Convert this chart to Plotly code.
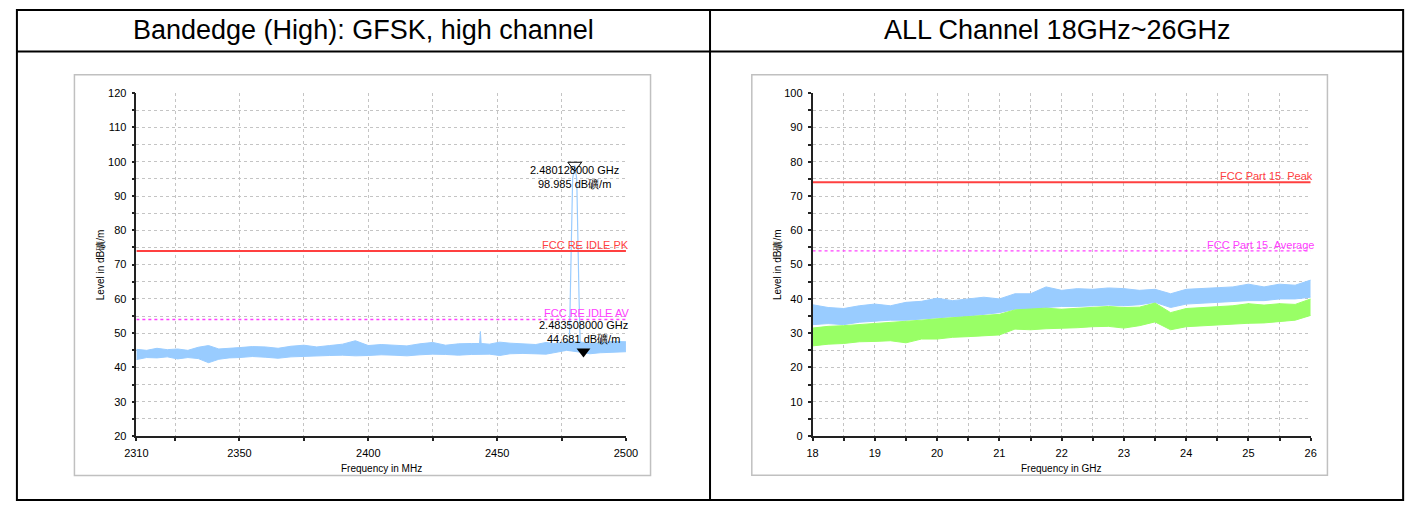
import plotly.graph_objects as go

# ---------------- data ----------------
HEAD_LEFT = "Bandedge (High): GFSK, high channel"
HEAD_RIGHT = "ALL Channel 18GHz~26GHz"
Y_TITLE = "Level in dB礦/m"

# Left chart: band-edge scan (MHz)
L_FREQ = [2310, 2314, 2318, 2322, 2326, 2330, 2334, 2338, 2342, 2346, 2350, 2355, 2360,
          2365, 2370, 2375, 2380, 2385, 2390, 2395, 2400, 2405, 2410, 2415, 2420, 2425,
          2430, 2435, 2440, 2443.2, 2443.5, 2443.8, 2447, 2451, 2455, 2460, 2465, 2469,
          2472, 2475, 2477, 2483, 2486, 2490, 2495, 2500]
L_UPPER = [45.3, 45.0, 45.6, 45.2, 45.4, 45.0, 45.9, 46.4, 45.4, 45.7, 45.8, 46.1, 46.0,
           45.6, 46.2, 46.5, 46.0, 46.4, 46.8, 47.8, 46.4, 46.7, 46.6, 46.3, 46.9, 47.3,
           46.5, 46.9, 47.0, 47.0, 50.5, 47.0, 46.8, 47.4, 47.1, 46.9, 46.7, 47.3,
           47.0, 47.2, 47.6, 47.4, 47.0, 47.2, 47.6, 47.5]
L_LOWER = [42.3, 42.9, 42.8, 43.1, 42.5, 42.9, 42.6, 41.4, 42.4, 42.8, 42.9, 43.2, 43.0,
           42.7, 43.1, 43.3, 43.3, 43.5, 43.6, 43.4, 43.5, 43.7, 43.6, 43.4, 43.7, 43.9,
           43.8, 43.6, 43.8, 43.8, 43.8, 43.8, 43.9, 43.5, 44.0, 44.1, 44.1, 43.9,
           44.3, 44.6, 45.0, 44.4, 44.0, 44.3, 44.5, 44.6]
SPIKE_FREQ = [2478.0, 2478.4, 2479.3, 2480.128, 2480.9, 2481.8, 2482.3]
SPIKE_LEVEL = [46.0, 60.0, 95.0, 98.985, 95.0, 60.0, 45.5]
MK1 = (2480.128, 98.985)
MK2 = (2483.508, 44.681)
MK1_TEXT = "2.480128000 GHz<br>98.985 dB礦/m"
MK2_TEXT = "2.483508000 GHz<br>44.681 dB礦/m"
L_LIMIT_PK = 74
L_LIMIT_AV = 54
L_PK_NAME = "FCC RE IDLE PK"
L_AV_NAME = "FCC RE IDLE AV"
L_XTICKS = [2310, 2325, 2350, 2375, 2400, 2425, 2450, 2475, 2500]
L_XTEXT = ["2310", "", "2350", "", "2400", "", "2450", "", "2500"]
L_YTICKS = list(range(20, 121, 5))
L_YTEXT = [str(v) if v % 10 == 0 else "" for v in L_YTICKS]

# Right chart: 18-26 GHz scan
R_FREQ = [18, 18.25, 18.5, 18.75, 19, 19.25, 19.5, 19.75, 20, 20.25, 20.5, 20.75,
          21, 21.25, 21.5, 21.75, 22, 22.25, 22.5, 22.75, 23, 23.25, 23.5, 23.75,
          24, 24.25, 24.5, 24.75, 25, 25.25, 25.5, 25.75, 26]
PK_UPPER = [38.3, 37.5, 37.2, 38.0, 38.5, 38.0, 39.0, 39.3, 40.2, 39.5, 40.0, 40.5,
            40.0, 41.5, 41.5, 43.5, 42.5, 43.0, 42.8, 43.2, 43.0, 42.5, 42.8, 41.5,
            42.8, 43.0, 43.2, 43.5, 44.3, 43.5, 44.3, 44.0, 45.5]
PK_LOWER = [32.5, 32.8, 32.5, 33.2, 33.5, 33.8, 33.8, 34.2, 34.5, 34.8, 35.0, 35.5,
            36.0, 37.0, 37.0, 37.5, 37.8, 37.8, 38.0, 38.2, 38.0, 38.3, 39.0, 37.5,
            38.5, 38.8, 39.0, 39.2, 39.5, 39.5, 40.0, 40.0, 40.5]
AV_UPPER = [31.5, 32.0, 32.2, 32.5, 32.8, 33.0, 33.3, 33.8, 34.2, 34.5, 34.8, 35.2,
            35.5, 36.8, 37.0, 37.3, 37.0, 37.3, 37.5, 37.8, 37.5, 37.6, 38.8, 36.0,
            37.2, 37.5, 37.6, 38.0, 38.6, 38.2, 38.6, 38.4, 40.0]
AV_LOWER = [26.3, 26.8, 27.0, 27.5, 27.6, 27.8, 27.2, 28.3, 28.3, 28.8, 29.0, 29.3,
            29.5, 31.2, 31.0, 31.3, 31.4, 31.6, 31.9, 32.0, 31.5, 32.2, 33.3, 31.0,
            31.9, 32.2, 32.4, 32.8, 32.9, 33.0, 33.3, 33.8, 35.2]
R_LIMIT_PK = 74
R_LIMIT_AV = 54
R_PK_NAME = "FCC Part 15  Peak"
R_AV_NAME = "FCC Part 15  Average"
R_XTICKS = [18 + 0.5 * i for i in range(17)]
R_XTEXT = [str(int(v)) if v == int(v) else "" for v in R_XTICKS]
R_YTICKS = list(range(0, 101, 5))
R_YTEXT = [str(v) if v % 10 == 0 else "" for v in R_YTICKS]

# ---------------- styling / layout ----------------
W, H = 1423, 507
BLUE = "#99ccff"
GREEN = "#99ff66"
RED = "#ff4040"
MAGENTA = "#ff40ff"
FONT = "Liberation Sans, Arial, sans-serif"


def px(x):
    return x / W


def py(y):
    return 1 - y / H


fig = go.Figure()

# left chart traces
fig.add_trace(go.Scatter(x=L_FREQ, y=L_LOWER, mode="lines", line=dict(color=BLUE, width=1),
                         xaxis="x", yaxis="y", showlegend=False, hoverinfo="skip"))
fig.add_trace(go.Scatter(x=L_FREQ, y=L_UPPER, mode="lines", line=dict(color=BLUE, width=1),
                         fill="tonexty", fillcolor=BLUE, xaxis="x", yaxis="y",
                         showlegend=False, hoverinfo="skip"))
fig.add_trace(go.Scatter(x=SPIKE_FREQ, y=SPIKE_LEVEL, mode="lines", line=dict(color=BLUE, width=1.2),
                         xaxis="x", yaxis="y", showlegend=False))
fig.add_trace(go.Scatter(x=[L_XTICKS[0], L_XTICKS[-1]], y=[L_LIMIT_PK] * 2, mode="lines",
                         line=dict(color=RED, width=2), xaxis="x", yaxis="y", showlegend=False))
fig.add_trace(go.Scatter(x=[L_XTICKS[0], L_XTICKS[-1]], y=[L_LIMIT_AV] * 2, mode="lines",
                         line=dict(color=MAGENTA, width=1.3, dash="dot"), xaxis="x", yaxis="y",
                         showlegend=False))

# right chart traces
fig.add_trace(go.Scatter(x=R_FREQ, y=PK_LOWER, mode="lines", line=dict(color=BLUE, width=1),
                         xaxis="x2", yaxis="y2", showlegend=False, hoverinfo="skip"))
fig.add_trace(go.Scatter(x=R_FREQ, y=PK_UPPER, mode="lines", line=dict(color=BLUE, width=1),
                         fill="tonexty", fillcolor=BLUE, xaxis="x2", yaxis="y2",
                         showlegend=False, hoverinfo="skip"))
fig.add_trace(go.Scatter(x=R_FREQ, y=AV_LOWER, mode="lines", line=dict(color=GREEN, width=1),
                         xaxis="x2", yaxis="y2", showlegend=False, hoverinfo="skip"))
fig.add_trace(go.Scatter(x=R_FREQ, y=AV_UPPER, mode="lines", line=dict(color=GREEN, width=1),
                         fill="tonexty", fillcolor=GREEN, xaxis="x2", yaxis="y2",
                         showlegend=False, hoverinfo="skip"))
fig.add_trace(go.Scatter(x=[R_XTICKS[0], R_XTICKS[-1]], y=[R_LIMIT_PK] * 2, mode="lines",
                         line=dict(color=RED, width=2), xaxis="x2", yaxis="y2", showlegend=False))
fig.add_trace(go.Scatter(x=[R_XTICKS[0], R_XTICKS[-1]], y=[R_LIMIT_AV] * 2, mode="lines",
                         line=dict(color=MAGENTA, width=1.3, dash="dot"), xaxis="x2", yaxis="y2",
                         showlegend=False))

# domains (pixel positions of the plot areas)
LX = [px(126.5), px(624.5)]
RX = [px(814.3), px(1321.0)]
YD = [py(440.5), py(89.3)]

tickfont = dict(family=FONT, size=11, color="black")


def main_axis(rng, tv, tt, dom=None, anchor=None):
    d = dict(range=rng, tickmode="array", tickvals=tv, ticktext=tt, ticks="outside",
             ticklen=3, tickwidth=1.5, tickcolor="#222", showline=True, linecolor="#222",
             linewidth=1.5, showgrid=True, gridcolor="#c4c4c4", griddash="dot", gridwidth=1,
             zeroline=False, tickfont=tickfont, fixedrange=True, ticklabelstandoff=3)
    if dom is not None:
        d["domain"] = dom
    if anchor is not None:
        d["anchor"] = anchor
    return d


def cross_axis(rng, tv, over, anchor, side):
    return dict(range=rng, tickmode="array", tickvals=tv, ticks="inside", ticklen=3,
                tickwidth=1.5, tickcolor="#222", showticklabels=False, showgrid=False,
                showline=False, zeroline=False, overlaying=over, anchor=anchor, side=side,
                fixedrange=True)


fig.update_layout(
    width=W, height=H, autosize=False,
    margin=dict(l=0, r=0, t=0, b=0),
    paper_bgcolor="white", plot_bgcolor="white",
    font=dict(family=FONT, color="black"),
    xaxis=main_axis([2310, 2500], L_XTICKS, L_XTEXT, LX, "y"),
    yaxis=main_axis([20, 120], L_YTICKS, L_YTEXT, YD, "x"),
    xaxis2=main_axis([18, 26], R_XTICKS, R_XTEXT, RX, "y2"),
    yaxis2=main_axis([0, 100], R_YTICKS, R_YTEXT, YD, "x2"),
    xaxis3=cross_axis([2310, 2500], L_XTICKS, "x", "y", "bottom"),
    yaxis3=cross_axis([20, 120], L_YTICKS, "y", "x", "left"),
    xaxis4=cross_axis([18, 26], R_XTICKS, "x2", "y2", "bottom"),
    yaxis4=cross_axis([0, 100], R_YTICKS, "y2", "x2", "left"),
)

shapes = []
# table borders
blk = dict(color="black", width=2)
shapes.append(dict(type="rect", xref="paper", yref="paper", x0=px(5), x1=px(1415),
                   y0=py(506), y1=py(4), line=blk))
shapes.append(dict(type="line", xref="paper", yref="paper", x0=px(5), x1=px(1415),
                   y0=py(46.5), y1=py(46.5), line=blk))
shapes.append(dict(type="line", xref="paper", yref="paper", x0=px(710), x1=px(710),
                   y0=py(4), y1=py(506), line=blk))
# chart frames
gry = dict(color="#c0c0c0", width=1.5)
shapes.append(dict(type="rect", xref="paper", yref="paper", x0=px(63.5), x1=px(649.5),
                   y0=py(481), y1=py(70.5), line=gry))
shapes.append(dict(type="rect", xref="paper", yref="paper", x0=px(752.5), x1=px(1338),
                   y0=py(480.5), y1=py(70.5), line=gry))
fig.update_layout(shapes=shapes)

ann = []
hdr = dict(family=FONT, size=27, color="black")
ann.append(dict(text=HEAD_LEFT, x=px(357.5), y=py(24.8), xref="paper", yref="paper",
                showarrow=False, font=hdr, xanchor="center", yanchor="middle"))
ann.append(dict(text=HEAD_RIGHT, x=px(1062.5), y=py(24.8), xref="paper", yref="paper",
                showarrow=False, font=hdr, xanchor="center", yanchor="middle"))
tf = dict(family=FONT, size=10, color="black")
ann.append(dict(text="Frequency in MHz", x=px(375.5), y=py(474), xref="paper", yref="paper",
                showarrow=False, font=tf, xanchor="center", yanchor="middle"))
ann.append(dict(text="Frequency in GHz", x=px(1067.6), y=py(474), xref="paper", yref="paper",
                showarrow=False, font=tf, xanchor="center", yanchor="middle"))
ann.append(dict(text=Y_TITLE, x=px(90), y=py(265), xref="paper", yref="paper", textangle=-90,
                showarrow=False, font=tf, xanchor="center", yanchor="middle"))
ann.append(dict(text=Y_TITLE, x=px(778.5), y=py(265), xref="paper", yref="paper", textangle=-90,
                showarrow=False, font=tf, xanchor="center", yanchor="middle"))

lf_r = dict(family=FONT, size=11, color=RED)
lf_m = dict(family=FONT, size=11, color=MAGENTA)
ann.append(dict(text=L_PK_NAME, x=L_XTICKS[-1], y=L_LIMIT_PK, xref="x", yref="y", showarrow=False,
                font=lf_r, xanchor="right", yanchor="bottom", xshift=5, yshift=-2))
ann.append(dict(text=L_AV_NAME, x=L_XTICKS[-1], y=L_LIMIT_AV, xref="x", yref="y", showarrow=False,
                font=lf_m, xanchor="right", yanchor="bottom", xshift=5, yshift=-2))
ann.append(dict(text=R_PK_NAME, x=R_XTICKS[-1], y=R_LIMIT_PK, xref="x2", yref="y2", showarrow=False,
                font=lf_r, xanchor="right", yanchor="bottom", xshift=4, yshift=-2))
ann.append(dict(text=R_AV_NAME, x=R_XTICKS[-1], y=R_LIMIT_AV, xref="x2", yref="y2", showarrow=False,
                font=lf_m, xanchor="right", yanchor="bottom", xshift=5, yshift=-2))

mf = dict(family=FONT, size=11, color="black")
ann.append(dict(text=MK1_TEXT, x=MK1[0], y=MK1[1], xref="x", yref="y", showarrow=False, font=mf,
                xanchor="center", yanchor="top", yshift=3))
ann.append(dict(text=MK2_TEXT, x=MK2[0], y=MK2[1], xref="x", yref="y", showarrow=False, font=mf,
                xanchor="center", yanchor="bottom", yshift=4))
fig.update_layout(annotations=ann)

# marker symbols
fig.add_trace(go.Scatter(x=[MK1[0]], y=[MK1[1]], mode="markers", xaxis="x", yaxis="y",
                         marker=dict(symbol="triangle-down-open", size=12, color="black",
                                     line=dict(width=1)), showlegend=False))
fig.add_trace(go.Scatter(x=[MK2[0]], y=[MK2[1]], mode="markers", xaxis="x", yaxis="y",
                         marker=dict(symbol="triangle-down", size=12, color="black"),
                         showlegend=False))

fig.write_html("out.html", config={"displayModeBar": False},
               post_script="document.body.style.margin='0';document.body.style.overflow='hidden';")
